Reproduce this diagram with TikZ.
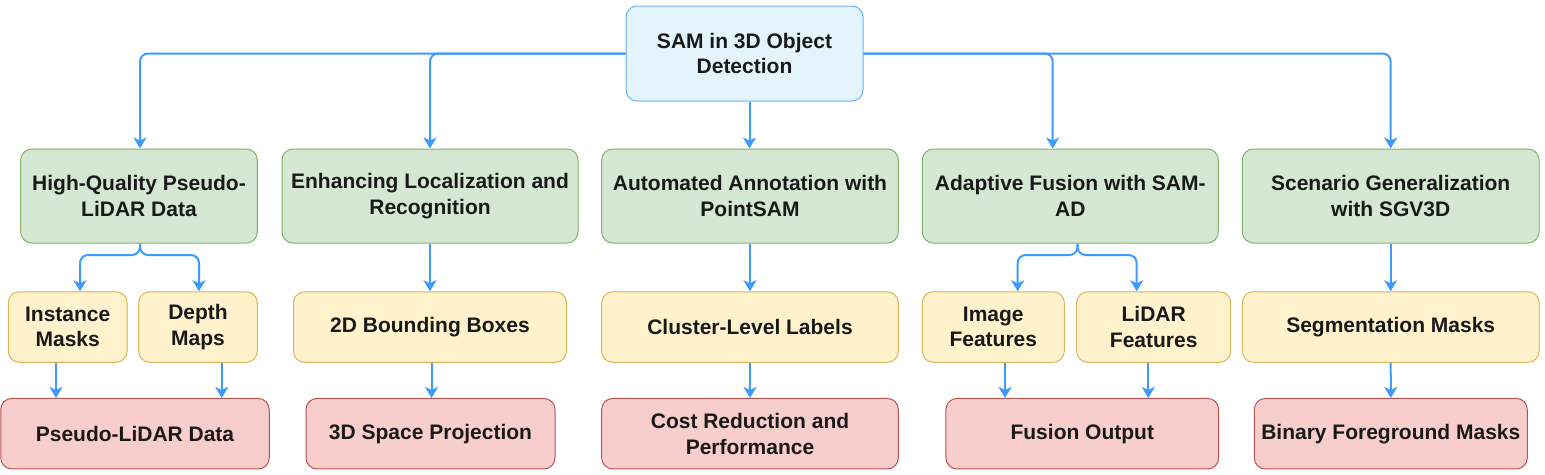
\documentclass[tikz,border=0pt]{standalone}
\usepackage{fontspec}
\setmainfont{Liberation Sans}
\usetikzlibrary{arrows.meta}
\definecolor{rootfill}{HTML}{E3F4FD}
\definecolor{rootdraw}{HTML}{66B2FF}
\definecolor{gfill}{HTML}{D5E8D4}
\definecolor{gdraw}{HTML}{82B366}
\definecolor{yfill}{HTML}{FFF2CC}
\definecolor{ydraw}{HTML}{D6B656}
\definecolor{rfill}{HTML}{F8CECC}
\definecolor{rdraw}{HTML}{B85450}
\definecolor{arrcol}{HTML}{3D9BFF}
\tikzset{
  box/.style={rounded corners=11pt, line width=1pt, inner sep=0pt, align=center,
    font=\fontsize{21}{25.7}\selectfont\bfseries, text=black!90},
  rootbox/.style={box, fill=rootfill, draw=rootdraw},
  gbox/.style={box, fill=gfill, draw=gdraw, minimum height=94pt},
  ybox/.style={box, fill=yfill, draw=ydraw, minimum height=70.5pt},
  rbox/.style={box, fill=rfill, draw=rdraw, minimum height=70.5pt},
  arr/.style={draw=arrcol, line width=2pt, rounded corners=8pt,
    -{Stealth[length=11pt,width=13pt,inset=3pt]}},
}
\begin{document}
\begin{tikzpicture}[x=1pt,y=-1pt]
\useasboundingbox (0,0) rectangle (1545,474);
% root
\node[rootbox, minimum width=237pt, minimum height=95pt] (root) at (744.5,53.5) {SAM in 3D Object\\Detection};
% green
\node[gbox, minimum width=236.6pt] (g1) at (139,196) {High-Quality Pseudo-\\LiDAR Data};
\node[gbox, minimum width=296pt] (g2) at (430,196) {Enhancing Localization and\\Recognition};
\node[gbox, minimum width=296.6pt] (g3) at (750,196) {Automated Annotation with\\PointSAM};
\node[gbox, minimum width=296pt] (g4) at (1070.3,196) {Adaptive Fusion with SAM-\\AD};
\node[gbox, minimum width=296.7pt] (g5) at (1390.7,196) {Scenario Generalization\\with SGV3D};
% yellow
\node[ybox, minimum width=118.7pt] (y1) at (67.7,327) {Instance\\Masks};
\node[ybox, minimum width=118.6pt] (y2) at (198,327) {Depth\\Maps};
\node[ybox, minimum width=273pt] (y3) at (430,327) {2D Bounding Boxes};
\node[ybox, minimum width=296.6pt] (y4) at (750,327) {Cluster-Level Labels};
\node[ybox, minimum width=142pt] (y5) at (993.3,327) {Image\\Features};
\node[ybox, minimum width=154pt] (y6) at (1153.7,327) {LiDAR\\Features};
\node[ybox, minimum width=296.7pt] (y7) at (1390.7,327) {Segmentation Masks};
% red
\node[rbox, minimum width=268.5pt] (r1) at (135,433.7) {Pseudo-LiDAR Data};
\node[rbox, minimum width=249pt] (r2) at (430.5,433.7) {3D Space Projection};
\node[rbox, minimum width=296.6pt] (r3) at (750,433.7) {Cost Reduction and\\Performance};
\node[rbox, minimum width=272.7pt] (r4) at (1082.3,433.7) {Fusion Output};
\node[rbox, minimum width=273pt] (r5) at (1390.8,433.7) {Binary Foreground Masks};
% top connectors
\draw[arr] (root.west) -| ([xshift=1pt]g1.north);
\draw[arr] (root.west) -| (g2.north);
\draw[arr] ([xshift=5pt]root.south) -- ([xshift=5pt]root.south |- g3.north);
\draw[arr] (root.east) -| ([xshift=-17.6pt]g4.north);
\draw[arr] (root.east) -| (g5.north);
% green to yellow
\coordinate (f1) at (140,255);
\draw[arr] ([xshift=1pt]g1.south) -- (f1) -| ([xshift=12.3pt]y1.north);
\draw[arr] ([xshift=1pt]g1.south) -- (f1) -| ([xshift=1pt]y2.north);
\draw[arr] (g2.south) -- (y3.north);
\draw[arr] (g3.south) -- (y4.north);
\coordinate (f4) at (1077.5,255);
\draw[arr] ([xshift=7.2pt]g4.south) -- (f4) -| ([xshift=24.4pt]y5.north);
\draw[arr] ([xshift=7.2pt]g4.south) -- (f4) -| ([xshift=-17pt]y6.north);
\draw[arr] (g5.south) -- (y7.north);
% yellow to red
\draw[arr] ([xshift=-11.7pt]y1.south) -- ([xshift=-11.7pt]y1.south |- r1.north);
\draw[arr] ([xshift=23.7pt]y2.south) -- ([xshift=23.7pt]y2.south |- r1.north);
\draw[arr] ([xshift=1.5pt]y3.south) -- ([xshift=1.5pt]y3.south |- r2.north);
\draw[arr] (y4.south) -- (r3.north);
\draw[arr] ([xshift=11.7pt]y5.south) -- ([xshift=11.7pt]y5.south |- r4.north);
\draw[arr] ([xshift=-5.4pt]y6.south) -- ([xshift=-5.4pt]y6.south |- r4.north);
\draw[arr] (y7.south) -- (r5.north);
\end{tikzpicture}
\end{document}
